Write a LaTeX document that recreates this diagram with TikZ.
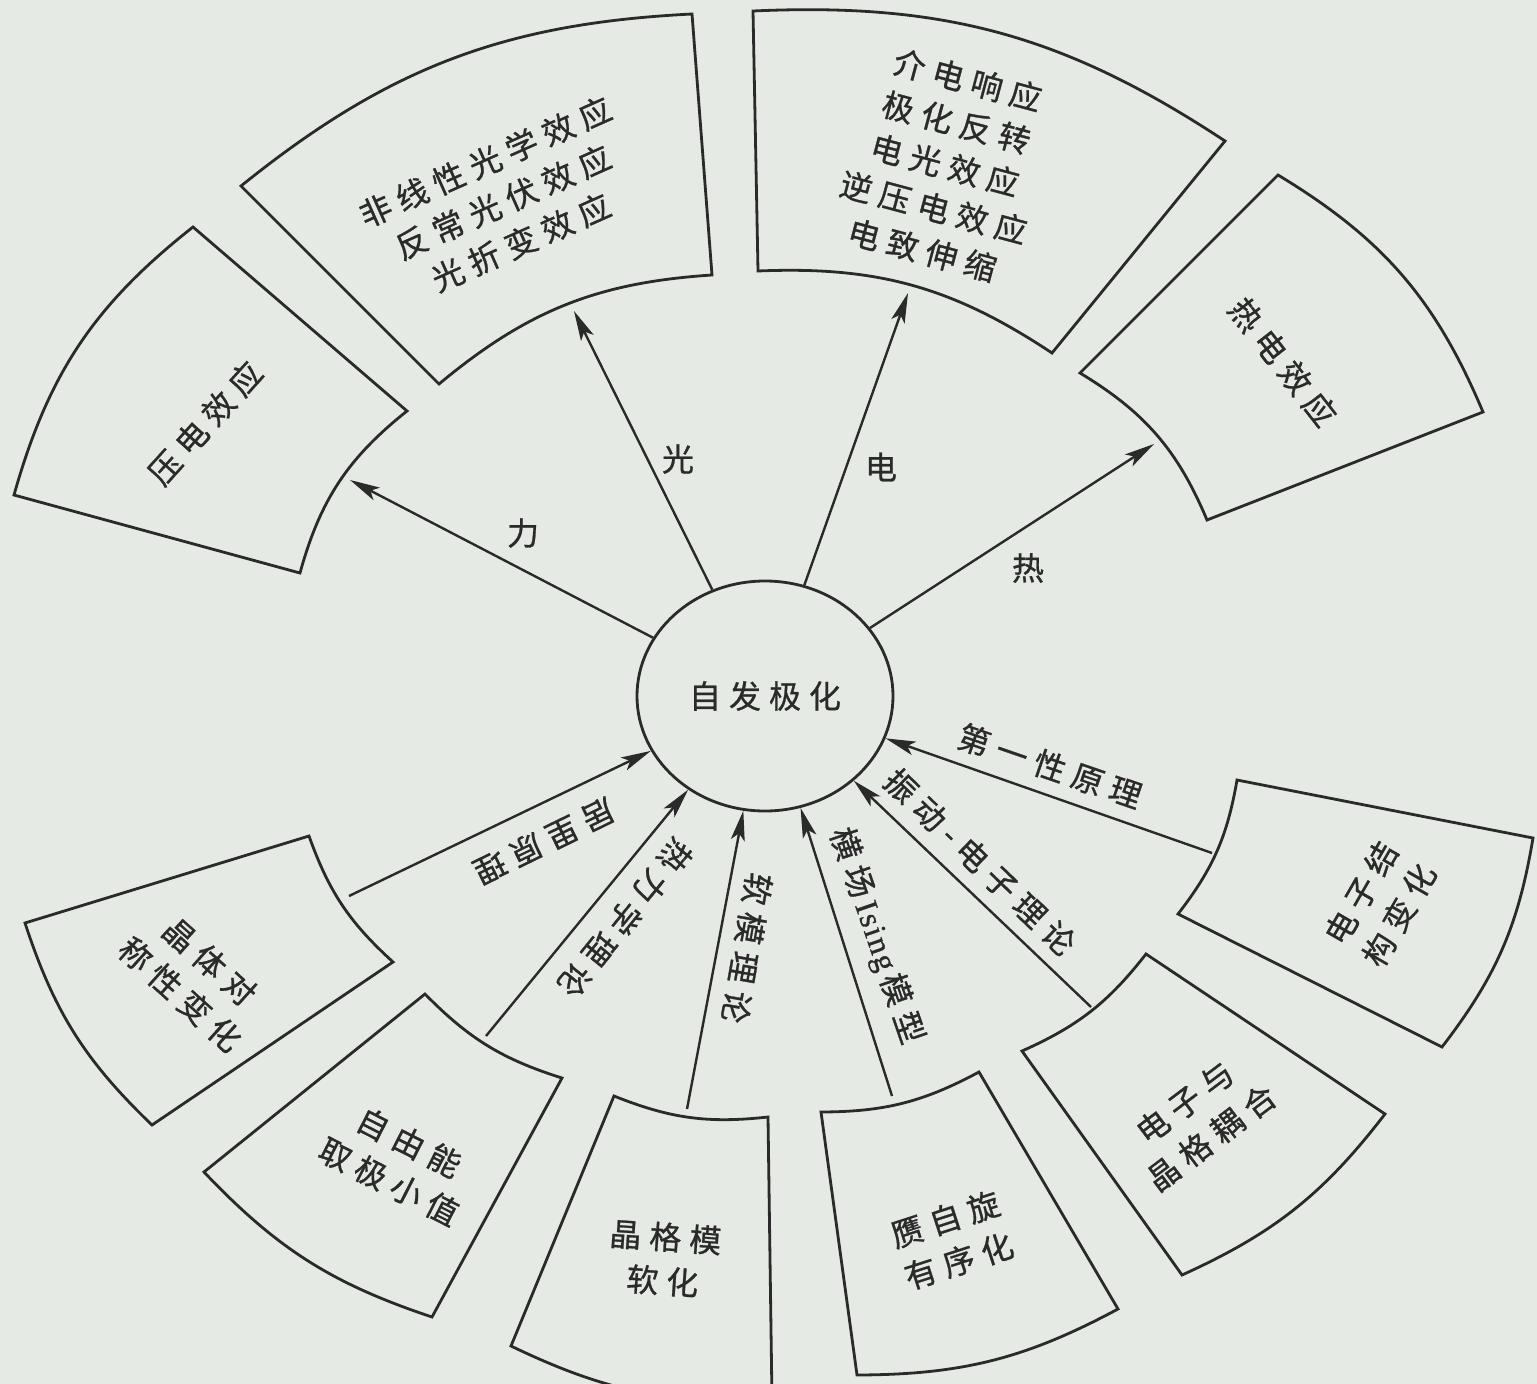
\documentclass[tikz,border=0pt]{standalone}
\usepackage{fontspec}
\setmainfont{Liberation Serif}
\newfontfamily\cjk[LetterSpace=25,FakeBold=0.8]{Noto Sans CJK SC}
\newfontfamily\latinlab[LetterSpace=6,FakeBold=0.8]{Liberation Serif}
\usetikzlibrary{arrows.meta,shapes.geometric}
\definecolor{paper}{RGB}{230,234,228}
\definecolor{ink}{RGB}{42,42,42}
\begin{document}
\begin{tikzpicture}[x=1pt,y=-1pt,
  box/.style={draw=ink,line width=2.8pt,line join=miter},
  link/.style={draw=ink,line width=2.4pt},
  arr/.style={link,-{Stealth[length=30pt,width=14pt,inset=7pt]}},
  lab/.style={text=ink,inner sep=0pt,font=\cjk\fontsize{32}{44}\selectfont},
  btxt/.style={lab,align=center}]
\fill[paper] (0,0) rectangle (1537,1384);
\useasboundingbox (0,0) rectangle (1537,1384);
\clip (0,0) rectangle (1537,1384);

% centre
\node[lab,ellipse,draw=ink,line width=2.8pt,minimum width=256pt,minimum height=230pt] (c) at (765,696) {自发极化};

% outer boxes
\draw[box] (14,495) to[bend left=18] (193,227) -- (407,411) to[bend right=18] (300,573) -- cycle;
\draw[box] (241,186) to[bend left=18] (692,14) -- (712,275) to[bend right=18] (439,384) -- cycle;
\draw[box] (753,11) to[bend left=18] (1225,141) -- (1052,353) to[bend right=18] (758,271) -- cycle;
\draw[box] (1278,175) to[bend left=18] (1483,412) -- (1207,520) to[bend right=18] (1080,373) -- cycle;
\draw[box] (1533,838) to[bend left=14] (1442,1047) -- (1178,914) to[bend right=14] (1237,780) -- cycle;
\draw[box] (1385,1114) to[bend left=14] (1182,1275) -- (1022,1051) to[bend right=14] (1146,954) -- cycle;
\draw[box] (1118,1309) to[bend left=14] (857,1375) -- (821,1112) to[bend right=14] (979,1072) -- cycle;
\draw[box] (772,1400) to[bend left=14] (511,1346) -- (614,1096) to[bend right=14] (768,1117) -- cycle;
\draw[box] (432,1317) to[bend left=14] (204,1172) -- (425,994) to[bend right=14] (562,1078) -- cycle;
\draw[box] (152,1125) to[bend left=14] (25,923) -- (309,836) to[bend right=14] (393,962) -- cycle;

% box texts
\node[btxt,rotate=48] (bA) at (205,423) {压电效应};
\node[btxt,rotate=24] (bB) at (503,202) {非线性光学效应\\反常光伏效应\\光折变效应};
\node[btxt,rotate=-15] (bC) at (945,165) {介电响应\\极化反转\\电光效应\\逆压电效应\\电致伸缩};
\node[btxt,rotate=-52] (bD) at (1283,362) {热电效应};
\node[btxt,rotate=60] (bE) at (1380,904) {电子结\\构变化};
\node[btxt,rotate=37] (bF) at (1198,1120) {电子与\\晶格耦合};
\node[btxt,rotate=18] (bG) at (952,1240) {赝自旋\\有序化};
\node[btxt,rotate=-4] (bH) at (664,1259) {晶格模\\软化};
\node[btxt,rotate=-27] (bI) at (399,1162) {自由能\\取极小值};
\node[btxt,rotate=-42] (bJ) at (195,978) {晶体对\\称性变化};

% attachment points
\coordinate (tA) at (350,480);
\coordinate (tB) at (574,311);
\coordinate (tC) at (908,293);
\coordinate (tD) at (1154,444);
\coordinate (sE) at (1212,853);
\coordinate (sF) at (1091,1007);
\coordinate (sG) at (892,1096);
\coordinate (sH) at (687,1109);
\coordinate (sI) at (486,1036);
\coordinate (sJ) at (349,896);

% connectors
\draw[arr] (c) -- (tA);
\draw[arr] (c) -- (tB);
\draw[arr] (c) -- (tC);
\draw[arr] (c) -- (tD);
\draw[arr] (sE) -- (c);
\draw[arr] (sF) -- (c);
\draw[arr] (sG) -- (c);
\draw[arr] (sH) -- (c);
\draw[arr] (sI) -- (c);
\draw[arr] (sJ) -- (c);

% connector labels
\node[lab] (lA) at (523,533) {力};
\node[lab] (lB) at (678,459) {光};
\node[lab] (lC) at (881,467) {电};
\node[lab] (lD) at (1028,568) {热};
\node[lab,rotate=-19] (lE) at (1050,766) {第一性原理};
\node[lab,rotate=-44] (lF) at (980,862) {振动-电子理论};
\node[lab,rotate=-71] (lG) at (876,936) {横场\,{\latinlab Ising}\,模型};
\node[lab,rotate=-100] (lH) at (747,948) {软模理论};
\node[lab,rotate=-129] (lI) at (625,918) {热力学理论};
\node[lab,rotate=-154] (lJ) at (544,841) {居里原理};
\end{tikzpicture}
\end{document}
